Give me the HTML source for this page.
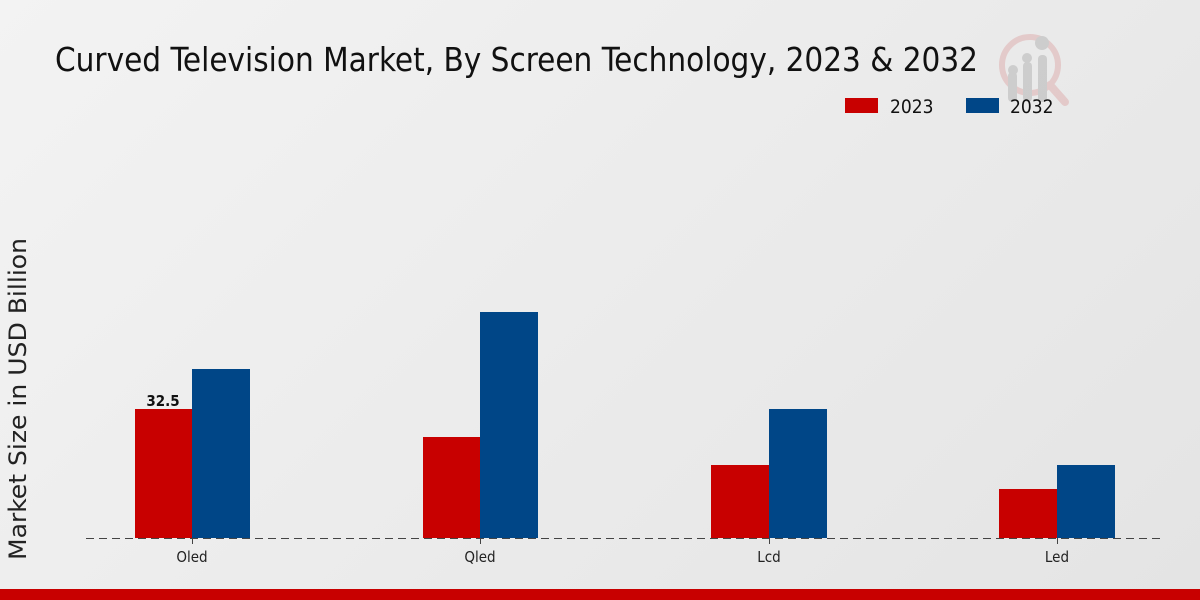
<!DOCTYPE html>
<html><head><meta charset="utf-8"><style>
html,body{margin:0;padding:0}
body{width:1200px;height:600px;overflow:hidden;background:linear-gradient(135deg,#f3f3f3,#e4e4e4);font-family:"DejaVu Sans Condensed","DejaVu Sans","Liberation Sans",sans-serif}
</style></head><body>
<svg width="1200" height="600" xmlns="http://www.w3.org/2000/svg" style="position:absolute;left:0;top:0;font-family:'DejaVu Sans Condensed','DejaVu Sans',sans-serif">
<text x="55" y="71" font-size="33" textLength="923" lengthAdjust="spacingAndGlyphs" fill="#111">Curved Television Market, By Screen Technology, 2023 &amp; 2032</text>
<g opacity="0.35">
<circle cx="1030" cy="65" r="28" fill="none" stroke="#d89090" stroke-width="6"/>
<line x1="1050" y1="85" x2="1065" y2="102" stroke="#d89090" stroke-width="8" stroke-linecap="round"/>
<rect x="1008" y="72" width="9" height="30" rx="4" fill="#999"/>
<rect x="1023" y="62" width="9" height="40" rx="4" fill="#999"/>
<rect x="1038" y="55" width="9" height="47" rx="4" fill="#999"/>
<circle cx="1013" cy="70" r="5" fill="#999"/><circle cx="1027" cy="58" r="5" fill="#999"/><circle cx="1042" cy="43" r="7" fill="#999"/>
</g>
<rect x="845" y="98" width="33" height="15" fill="#c80000"/>
<text x="890" y="113" font-size="19" fill="#111">2023</text>
<rect x="966" y="98" width="33" height="15" fill="#004687"/>
<text x="1010" y="113" font-size="19" fill="#111">2032</text>
<text transform="translate(26,399) rotate(-90)" text-anchor="middle" font-size="24" textLength="322" lengthAdjust="spacingAndGlyphs" fill="#222">Market Size in USD Billion</text>
<rect x="135" y="409" width="57" height="129" fill="#c80000"/>
<rect x="192" y="369" width="58" height="169" fill="#004687"/>
<rect x="423" y="437" width="57" height="101" fill="#c80000"/>
<rect x="480" y="312" width="58" height="226" fill="#004687"/>
<rect x="711" y="465" width="58" height="73" fill="#c80000"/>
<rect x="769" y="409" width="58" height="129" fill="#004687"/>
<rect x="999" y="489" width="58" height="49" fill="#c80000"/>
<rect x="1057" y="465" width="58" height="73" fill="#004687"/>
<line x1="86" y1="538.5" x2="1165" y2="538.5" stroke="#444" stroke-width="1" stroke-dasharray="8,5"/>
<g stroke="#444"><line x1="192.5" y1="538" x2="192.5" y2="544"/><line x1="480.5" y1="538" x2="480.5" y2="544"/><line x1="769.5" y1="538" x2="769.5" y2="544"/><line x1="1057.5" y1="538" x2="1057.5" y2="544"/></g>
<text x="163" y="406" text-anchor="middle" font-size="15" font-weight="bold" fill="#111">32.5</text>
<g font-size="15" fill="#222" text-anchor="middle">
<text x="192" y="562">Oled</text><text x="480" y="562">Qled</text><text x="769" y="562">Lcd</text><text x="1057" y="562">Led</text>
</g>
<rect x="0" y="589" width="1200" height="11" fill="#c80000"/>
</svg>
</body></html>
